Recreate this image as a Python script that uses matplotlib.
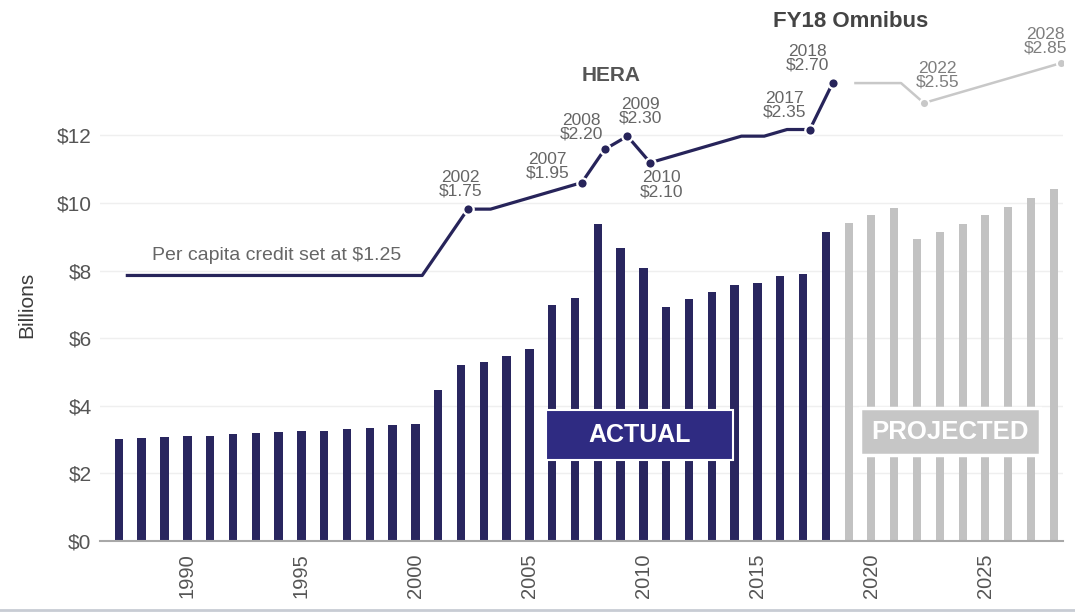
import matplotlib
matplotlib.use("Agg")
import matplotlib.pyplot as plt
from matplotlib.patches import Rectangle
from matplotlib.lines import Line2D

# LIHTC volume in billions, actual and projected
actual_years = list(range(1987, 2019))
actual_vals = [3.02, 3.05, 3.08, 3.10, 3.12, 3.17, 3.20, 3.23, 3.26, 3.26,
               3.32, 3.35, 3.43, 3.46, 4.47, 5.20, 5.29, 5.48, 5.69, 6.98,
               7.19, 9.38, 8.67, 8.08, 6.92, 7.16, 7.37, 7.57, 7.64, 7.84,
               7.90, 9.14]
proj_years = list(range(2019, 2029))
proj_vals = [9.41, 9.65, 9.86, 8.93, 9.14, 9.38, 9.65, 9.88, 10.15, 10.41]

# per capita credit ($)
credit_vals = [1.25] * 14 + [1.50, 1.75, 1.75, 1.80, 1.85, 1.90, 1.95, 2.20,
                             2.30, 2.10, 2.15, 2.20, 2.25, 2.30, 2.30, 2.35,
                             2.35, 2.70]
proj_credit = [2.70, 2.70, 2.70, 2.55, 2.60, 2.65, 2.70, 2.75, 2.80, 2.85]

# labelled points: year, offset of the label in pixels
credit_labels = {2002: (-7, 25), 2007: (-34, 16), 2008: (-23, 22),
                 2009: (13, 25), 2010: (11, -22), 2017: (-25, 24),
                 2018: (-25, 25)}
proj_labels = {2022: (14, 28), 2028: (-15, 22)}

xticks = [1990, 1995, 2000, 2005, 2010, 2015, 2020, 2025]
yticks = [0, 2, 4, 6, 8, 10, 12]

navy = '#29265f'
navy_box = '#2f2b82'
grey = '#c2c2c2'
text_grey = '#666666'

plt.rcParams['font.family'] = ['Liberation Sans', 'DejaVu Sans']

fig = plt.figure(figsize=(10.75, 6.12), dpi=100)
ax = fig.add_axes([0.093, 0.116, 0.8958, 0.8758])

ax.bar(actual_years, actual_vals, width=0.37, color=navy, zorder=2)
ax.bar(proj_years, proj_vals, width=0.35, color=grey, zorder=2)

ytop = 15.86
ax.set_xlim(1986.17, 2028.4)
ax.set_ylim(0, ytop)
ax.set_yticks(yticks)
ax.set_yticklabels(['$%d' % v for v in yticks])
ax.set_xticks(xticks)
ax.set_xticklabels([str(v) for v in xticks], rotation=90)
ax.tick_params(axis='y', length=0, pad=6, labelsize=15, labelcolor='#555555')
ax.tick_params(axis='x', length=0, pad=9, labelsize=14.5, labelcolor='#555555')
ax.set_ylabel('Billions', fontsize=15, color='#3c3c3c')
ax.yaxis.set_label_coords(-0.066, 0.44)
ax.grid(axis='y', color='#efefef', linewidth=1, zorder=0)
for s in ['top', 'right', 'left']:
    ax.spines[s].set_visible(False)
ax.spines['bottom'].set_color('#a8a8a8')
ax.spines['bottom'].set_linewidth(1.5)

# ACTUAL / PROJECTED tags over the bars
ax.add_patch(Rectangle((2005.73, 2.40), 8.2, 1.48, facecolor=navy_box,
                       edgecolor='white', linewidth=1.5, zorder=3))
ax.text(2009.83, 3.14, 'ACTUAL', color='white', fontsize=18,
        fontweight='bold', ha='center', va='center', zorder=4)
ax.add_patch(Rectangle((2019.5, 2.54), 7.9, 1.39, facecolor='#c6c6c6',
                       edgecolor='white', linewidth=2.5, zorder=3))
ax.text(2023.45, 3.24, 'PROJECTED', color='white', fontsize=18.5,
        fontweight='bold', ha='center', va='center', zorder=4)

# credit line on its own hidden scale
ax2 = ax.twinx()
slope, base = 3.926, 2.95
ax2.set_ylim((0 - base) / slope, (ytop - base) / slope)
ax2.axis('off')
shift = 0.3

ax2.plot([y + shift for y in actual_years], credit_vals, color='#27245a',
         linewidth=2.3, solid_capstyle='butt', zorder=5)
ax2.plot([y + shift for y in proj_years], proj_credit, color='#c8c8c8',
         linewidth=1.8, zorder=5)

for yr, (dx, dy) in credit_labels.items():
    v = credit_vals[actual_years.index(yr)]
    ax2.plot(yr + shift, v, 'o', color='#27245a', markersize=7.5,
             markeredgecolor='white', markeredgewidth=1.6, zorder=6)
    ax2.annotate('%d\n$%.2f' % (yr, v), (yr + shift, v), xytext=(dx, dy),
                 textcoords='offset pixels', ha='center', va='center',
                 fontsize=12.5, color=text_grey, linespacing=0.9)
for yr, (dx, dy) in proj_labels.items():
    v = proj_credit[proj_years.index(yr)]
    ax2.plot(yr + shift, v, 'o', color='#c8c8c8', markersize=6.5,
             markeredgecolor='white', markeredgewidth=1.4, zorder=6)
    ax2.annotate('%d\n$%.2f' % (yr, v), (yr + shift, v), xytext=(dx, dy),
                 textcoords='offset pixels', ha='center', va='center',
                 fontsize=12.5, color='#7e7e7e', linespacing=0.9)

ax.text(1993.93, 8.46, 'Per capita credit set at $1.25', fontsize=14,
        color=text_grey, ha='center', va='center')
ax.text(2008.6, 13.76, 'HERA', fontsize=15, fontweight='bold',
        color='#555555', ha='center', va='center')
ax.text(2019.1, 15.36, 'FY18 Omnibus', fontsize=16, fontweight='bold',
        color='#444444', ha='center', va='center')

# thin rule along the bottom edge
fig.add_artist(Line2D([0, 1], [0.004, 0.004], color='#c8ccd4', linewidth=2))

fig.savefig('out.png', dpi=100, facecolor='white')
